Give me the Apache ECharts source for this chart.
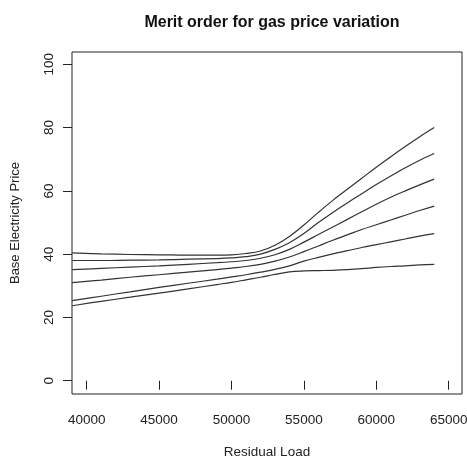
<!DOCTYPE html>
<html>
<head>
<meta charset="utf-8">
<script src="https://cdn.jsdelivr.net/npm/echarts@6/dist/echarts.min.js"></script>
<style>
  html, body { margin: 0; padding: 0; background: #fff; }
  #chart { width: 467px; height: 458px; }
</style>
</head>
<body>
<div id="chart"></div>
<script>
// residual load (x) shared by all curves
const loads = [39000, 41000, 43000, 45000, 47000, 49000, 50000, 51000, 52000, 53000, 54000,
  55000, 56000, 57000, 58000, 59000, 60000, 61000, 62000, 63000, 64000]

// one curve per gas price level, highest gas price first
const price1 = [40.4, 40.1, 39.9, 39.8, 39.7, 39.7, 39.8, 40.2, 41.0, 42.8, 45.6,
  49.2, 53.2, 57.0, 60.5, 64.0, 67.5, 70.8, 74.0, 77.1, 80.0]
const price2 = [38.0, 38.0, 38.1, 38.2, 38.4, 38.6, 38.8, 39.2, 40.0, 41.5, 43.6,
  46.5, 50.0, 53.2, 56.2, 59.1, 62.0, 64.7, 67.3, 69.7, 71.8]
const price3 = [35.1, 35.5, 35.9, 36.3, 36.8, 37.3, 37.6, 38.0, 38.7, 39.8, 41.5,
  43.8, 46.2, 48.6, 51.0, 53.4, 55.8, 58.0, 60.0, 61.9, 63.7]
const price4 = [31.0, 31.8, 32.7, 33.5, 34.3, 35.1, 35.6, 36.1, 36.8, 37.8, 39.1,
  40.8, 42.6, 44.4, 46.1, 47.8, 49.3, 50.8, 52.3, 53.8, 55.2]
const price5 = [25.3, 26.7, 28.1, 29.5, 30.8, 32.1, 32.8, 33.5, 34.3, 35.2, 36.3,
  37.8, 39.0, 40.1, 41.1, 42.1, 43.0, 43.9, 44.8, 45.7, 46.5]
const price6 = [23.7, 25.1, 26.4, 27.7, 29.0, 30.4, 31.1, 31.9, 32.7, 33.6, 34.4,
  34.7, 34.8, 34.9, 35.1, 35.4, 35.8, 36.1, 36.3, 36.6, 36.8]

const xTicks = [40000, 45000, 50000, 55000, 60000, 65000]
const yTicks = [0, 20, 40, 60, 80, 100]

const curves = [price1, price2, price3, price4, price5, price6]
const font = 'Liberation Sans, Arial, sans-serif'

const chart = echarts.init(document.getElementById('chart'))

chart.setOption({
  animation: false,
  title: {
    text: 'Merit order for gas price variation',
    left: 267,
    top: 10,
    textAlign: 'center',
    textStyle: { fontFamily: font, fontSize: 16, fontWeight: 'bold', color: '#111' }
  },
  grid: {
    left: 72, top: 52, width: 390, height: 342,
    outerBoundsMode: 'none',
    show: true, borderColor: '#222', borderWidth: 1, backgroundColor: 'transparent'
  },
  xAxis: {
    type: 'value',
    min: 38985,
    max: 65920,
    name: 'Residual Load',
    nameLocation: 'middle',
    nameGap: 51,
    nameTextStyle: { fontFamily: font, fontSize: 13.5, color: '#222' },
    axisLine: { show: false },
    axisTick: { show: true, inside: false, length: 9, customValues: xTicks, lineStyle: { color: '#222' } },
    axisLabel: {
      customValues: xTicks, margin: 19, fontFamily: font, fontSize: 13.5, color: '#222',
      formatter: v => String(v)
    },
    splitLine: { show: false }
  },
  yAxis: {
    type: 'value',
    min: -4.2,
    max: 103.9,
    name: 'Base Electricity Price',
    nameLocation: 'middle',
    nameGap: 50,
    nameRotate: 90,
    nameTextStyle: { fontFamily: font, fontSize: 13, color: '#222' },
    axisLine: { show: false },
    axisTick: { show: true, inside: false, length: 9, customValues: yTicks, lineStyle: { color: '#222' } },
    axisLabel: { customValues: yTicks, rotate: 90, margin: 16, fontFamily: font, fontSize: 13.5, color: '#222' },
    splitLine: { show: false }
  },
  series: curves.map(vals => ({
    type: 'line',
    data: loads.map((x, i) => [x, vals[i]]),
    smooth: 0.4,
    showSymbol: false,
    lineStyle: { color: '#333', width: 1.2 }
  }))
})
</script>
</body>
</html>
